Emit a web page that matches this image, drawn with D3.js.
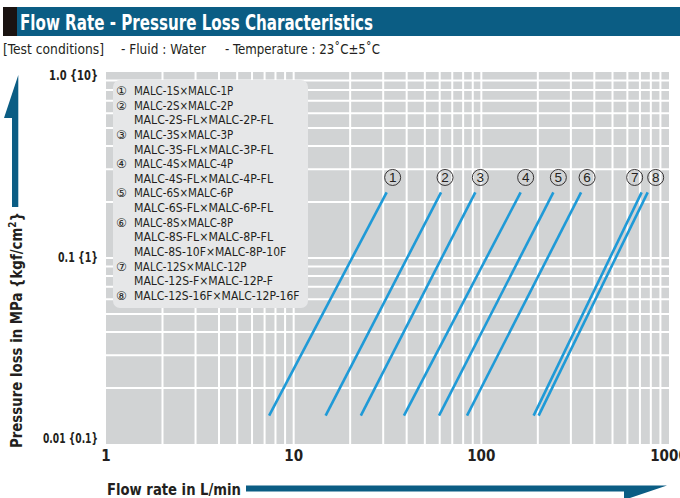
<!DOCTYPE html>
<html><head><meta charset="utf-8">
<script src="https://cdn.jsdelivr.net/npm/d3@7"></script>
<style>
html,body{margin:0;padding:0;background:#fff;}
svg{display:block;}
text{font-family:"Liberation Sans Narrow","Arial Narrow","DejaVu Sans Condensed",sans-serif;font-stretch:condensed;}
</style></head>
<body><svg id="c" width="680" height="498"></svg>
<script>
// ---------- data ----------
const seriesIds = ["1","2","3","4","5","6","7","8"];
const flowLow  = [7.4, 14.8, 22.8, 38.7, 59.5, 83.9, 190, 202];   // L/min at low pressure end
const flowHigh = [31.3, 61.0, 92.9, 162, 242, 340, 715, 770];     // L/min at high pressure end
const pressureLow  = [0.0142,0.0142,0.0142,0.0142,0.0142,0.0142,0.0142,0.0142]; // MPa
const pressureHigh = [0.2255,0.2255,0.2255,0.2255,0.2255,0.2255,0.2255,0.2255]; // MPa
const legendLines = [
  ["①","MALC-1S×MALC-1P"],
  ["②","MALC-2S×MALC-2P"],
  ["","MALC-2S-FL×MALC-2P-FL"],
  ["③","MALC-3S×MALC-3P"],
  ["","MALC-3S-FL×MALC-3P-FL"],
  ["④","MALC-4S×MALC-4P"],
  ["","MALC-4S-FL×MALC-4P-FL"],
  ["⑤","MALC-6S×MALC-6P"],
  ["","MALC-6S-FL×MALC-6P-FL"],
  ["⑥","MALC-8S×MALC-8P"],
  ["","MALC-8S-FL×MALC-8P-FL"],
  ["","MALC-8S-10F×MALC-8P-10F"],
  ["⑦","MALC-12S×MALC-12P"],
  ["","MALC-12S-F×MALC-12P-F"],
  ["⑧","MALC-12S-16F×MALC-12P-16F"]
];
const xTickValues = [1, 10, 100, 1000];
const xTickLabels = ["1", "10", "100", "1000"];
const yTickValues = [1, 0.1, 0.01];
const yTickLabels = ["1.0 {10}", "0.1 {1}", "0.01 {0.1}"];
const titleText = "Flow Rate - Pressure Loss Characteristics";
const conditionTexts = ["[Test conditions]", "- Fluid : Water", "- Temperature : 23˚C±5˚C"];
const xTitle = "Flow rate in L/min";

// ---------- layout / style ----------
const L = 106, R = 669, T = 72, B = 444;
const navy = "#0b5d84", blue = "#1f9ad7", ink = "#231f20";
const svg = d3.select("#c");
const x = d3.scaleLog().domain([1, 1000]).range([L, R]);
const y = d3.scaleLog().domain([0.01, 1]).range([B, T]);

// header
svg.append("rect").attr("x", 3).attr("y", 7).attr("width", 677).attr("height", 29).attr("fill", navy);
svg.append("rect").attr("x", 3).attr("y", 7).attr("width", 14).attr("height", 29).attr("fill", "#1a1311");
svg.append("text").attr("x", 20).attr("y", 30).attr("fill", "#fff")
  .attr("font-size", 21).attr("font-weight", "bold")
  .attr("textLength", 353).attr("lengthAdjust", "spacingAndGlyphs").text(titleText);
const condX = [3, 121, 225], condW = [101, 85, 155];
conditionTexts.forEach((t, i) => {
  svg.append("text").attr("x", condX[i]).attr("y", 54).attr("fill", ink).attr("font-size", 14.5)
    .attr("textLength", condW[i]).attr("lengthAdjust", "spacingAndGlyphs").text(t);
});

// plot background
svg.append("rect").attr("x", L).attr("y", T).attr("width", R - L).attr("height", B - T).attr("fill", "#d1d3d4");

// grid
const xGrid = [];
[1, 10, 100].forEach(d => { for (let k = 1; k <= 9; k++) { const v = d * k; if (v > 1 && v < 1000) xGrid.push(v); } });
const yGrid = [];
[0.01, 0.1].forEach(d => { for (let k = 1; k <= 9; k++) { const v = d * k; if (v > 0.01 && v < 0.99) yGrid.push(v); } });
svg.append("g").selectAll("line").data(xGrid).join("line")
  .attr("x1", d => x(d)).attr("x2", d => x(d)).attr("y1", T).attr("y2", B)
  .attr("stroke", "#fff").attr("stroke-width", 2);
svg.append("g").selectAll("line").data(yGrid).join("line")
  .attr("y1", d => y(d)).attr("y2", d => y(d)).attr("x1", L).attr("x2", R)
  .attr("stroke", "#fff").attr("stroke-width", 2);

// legend box
svg.append("rect").attr("x", 113).attr("y", 80).attr("width", 195).attr("height", 228).attr("rx", 7)
  .attr("fill", "#e6e7e8");
const lg = svg.append("g");
legendLines.forEach((row, i) => {
  const yy = 95 + i * 14.64;
  if (row[0]) lg.append("text").attr("x", 116).attr("y", yy).attr("font-size", 12).attr("fill", ink)
     .style("font-family", "'DejaVu Sans',sans-serif").style("font-stretch", "normal").text(row[0]);
  lg.append("text").attr("x", 134).attr("y", yy).attr("font-size", 13).attr("fill", ink)
    .attr("textLength", row[1].length * 6.62).attr("lengthAdjust", "spacingAndGlyphs").text(row[1]);
});

// series lines
const lineGen = d3.line().x(d => x(d[0])).y(d => y(d[1]));
const series = seriesIds.map((id, i) => ({ id, pts: [[flowLow[i], pressureLow[i]], [flowHigh[i], pressureHigh[i]]] }));
svg.append("g").selectAll("path").data(series).join("path")
  .attr("d", d => lineGen(d.pts)).attr("fill", "none").attr("stroke", blue).attr("stroke-width", 2.6);

// circled labels
const labelDx = [6, 4, 5, 5, 5, 6, -7, 8];
const labelY = y(0.271);
const lab = svg.append("g").selectAll("g").data(series).join("g")
  .attr("transform", (d, i) => `translate(${x(flowHigh[i]) + labelDx[i]},${labelY})`);
lab.append("circle").attr("r", 8).attr("fill", "none").attr("stroke", ink).attr("stroke-width", 0.9);
lab.append("text").attr("text-anchor", "middle").attr("y", 4.8).attr("font-size", 13.5).attr("fill", ink)
  .style("font-family", "'Liberation Sans',Arial,sans-serif").style("font-stretch", "normal").text(d => d.id);

// y tick labels
const yAdj = [3, -1, -6];
const yLabW = [49, 40, 55];
svg.append("g").selectAll("text").data(yTickValues).join("text")
  .attr("x", (d, i) => 98 - yLabW[i]).attr("y", (d, i) => y(d) + yAdj[i] + 4.5)
  .attr("font-size", 13.5).attr("font-weight", "bold").attr("fill", ink)
  .attr("textLength", (d, i) => yLabW[i]).attr("lengthAdjust", "spacingAndGlyphs")
  .text((d, i) => yTickLabels[i]);

// x tick labels
svg.append("g").selectAll("text").data(xTickValues).join("text")
  .attr("x", d => x(d)).attr("y", 461).attr("text-anchor", "middle")
  .attr("font-size", 15).attr("font-weight", "bold").attr("fill", ink)
  .text((d, i) => xTickLabels[i]);

// x title and arrow
svg.append("text").attr("x", 107).attr("y", 495).attr("font-size", 16.5).attr("font-weight", "bold").attr("fill", ink)
  .attr("textLength", 134).attr("lengthAdjust", "spacingAndGlyphs").text(xTitle);
svg.append("path").attr("fill", navy)
  .attr("d", "M246,485.5 L667,485.5 L624,500 L624,491.5 L246,491.5 Z");

// y title and arrow
const yt = svg.append("text").attr("transform", "translate(22,448) rotate(-90)")
  .attr("font-size", 16.5).attr("font-weight", "bold").attr("fill", ink)
  .attr("textLength", 236).attr("lengthAdjust", "spacingAndGlyphs");
yt.append("tspan").text("Pressure loss in MPa {kgf/cm");
yt.append("tspan").attr("dy", -6).attr("font-size", 11).text("2");
yt.append("tspan").attr("dy", 6).text("}");
svg.append("path").attr("fill", navy)
  .attr("d", "M18.3,75 L18.3,207 L12,207 L12,118 L4,118 Z");
</script></body></html>
